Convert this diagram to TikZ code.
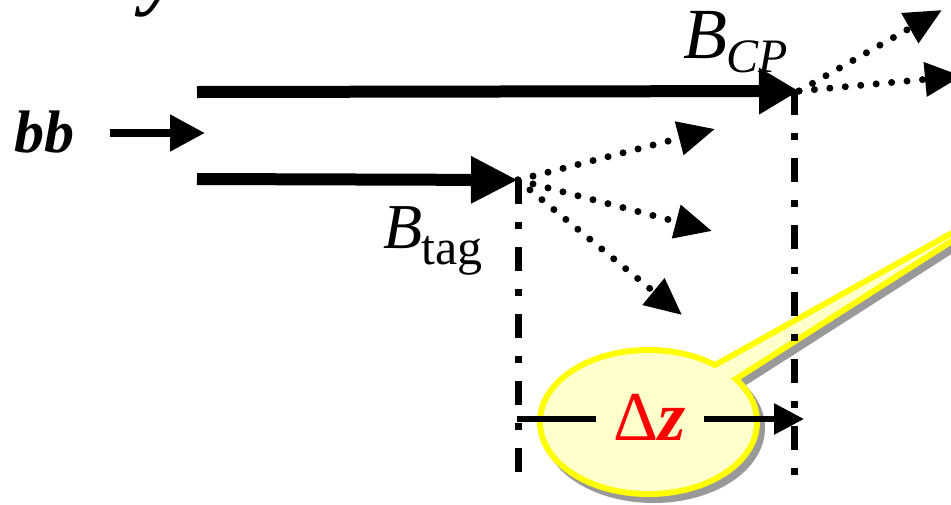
\documentclass[tikz,border=0pt]{standalone}
\usepackage{fontspec}
\setmainfont{Liberation Serif}
\usetikzlibrary{arrows.meta}
\definecolor{calloutfill}{HTML}{FFFFCC}
\definecolor{calloutedge}{HTML}{FFFF00}
\definecolor{shadowgray}{HTML}{999999}
\definecolor{dzred}{HTML}{FF0000}
\begin{document}
\begin{tikzpicture}[x=1pt,y=-1pt,
  thickarrow/.style={line width=12pt},
  dotarrow/.style={line width=7pt, line cap=round, dash pattern=on 0pt off 15.5pt,
    -{Triangle[length=37pt,width=33pt]}},
  dashdotline/.style={line width=7pt, dash pattern=on 24pt off 18pt on 7pt off 18pt},
  calloutshape/.style={line width=12pt},
]
\useasboundingbox (0,0) rectangle (951,504);
\clip (0,0) rectangle (951,504);

% callout: shadow, border, fill
\begin{scope}[shift={(5,6)}]
  \filldraw[shadowgray, calloutshape] (648.5,422) ellipse [x radius=105.5pt, y radius=69pt];
  \filldraw[shadowgray, calloutshape] (680,388) -- (962,231) -- (705,395) -- cycle;
\end{scope}
\draw[calloutedge, calloutshape] (648.5,422) ellipse [x radius=105.5pt, y radius=69pt];
\draw[calloutedge, calloutshape] (680,388) -- (962,231) -- (705,395) -- cycle;
\fill[calloutfill] (648.5,422) ellipse [x radius=105.5pt, y radius=69pt];
\fill[calloutfill] (680,388) -- (962,231) -- (705,395) -- cycle;

% title (cut off at top)
\node[font=\fontsize{82}{82}\selectfont\bfseries\itshape, anchor=base west, inner sep=0pt]
  (title) at (-30,-1) {Decay vertices};

% bb
\node[font=\fontsize{60}{60}\selectfont\bfseries\itshape, anchor=base west, inner sep=0pt]
  (bb) at (14,152) {bb};
\coordinate (bbs) at (110,133);
\coordinate (bbe) at (205,133);
\draw[line width=8pt, -{Triangle[length=35pt,width=35pt]}] (bbs) -- (bbe);

% vertices
\coordinate (topstart) at (197,92);
\coordinate (vcp) at (799,91);
\coordinate (botstart) at (197,179);
\coordinate (vtag) at (518,180);

% vertical dash-dot lines
\coordinate (tagbot) at (518,472);
\coordinate (cptop) at (794,91);
\coordinate (cpbot) at (794,478);
\draw[dashdotline] (vtag) -- (tagbot);
\draw[dashdotline] (cptop) -- (cpbot);

% B meson lines
\draw[thickarrow, -{Triangle[length=40pt,width=44pt]}] (topstart) -- (vcp);
\draw[thickarrow, -{Triangle[length=47pt,width=44pt]}] (botstart) -- (vtag);

% decay products
\coordinate (t1) at (715,129);
\coordinate (t2) at (712,231);
\coordinate (t3) at (682,315);
\coordinate (c1) at (942,10);
\coordinate (c2) at (962,76);
\draw[dotarrow] (vtag) -- (t1);
\draw[dotarrow] (vtag) -- (t2);
\draw[dotarrow] (vtag) -- (t3);
\draw[dotarrow] (vcp) -- (c1);
\draw[dotarrow] (vcp) -- (c2);

% labels
\node[anchor=base west, inner sep=0pt] (bcp) at (683,58)
  {{\fontsize{72}{72}\selectfont\itshape B}\kern-1pt\raisebox{-14pt}{\fontsize{48}{48}\selectfont\itshape CP}};
\node[anchor=base west, inner sep=0pt] (btag) at (383,248)
  {{\fontsize{64}{64}\selectfont\itshape B}\kern-1pt\raisebox{-16pt}{\fontsize{50}{50}\selectfont tag}};

% Delta z
\node[anchor=base, inner xsep=18pt, inner ysep=0pt, text=dzred,
  font=\fontsize{70}{70}\selectfont] (dz) at (650,440) {Δ\textbf{\textit{z}}};
\coordinate (dzl) at (517,419);
\coordinate (dzr) at (804,419);
\draw[line width=6pt] (dzl) -- (dzl -| dz.west);
\draw[line width=6pt, -{Triangle[length=30pt,width=30pt]}] (dz.east |- dzr) -- (dzr);
\end{tikzpicture}
\end{document}
